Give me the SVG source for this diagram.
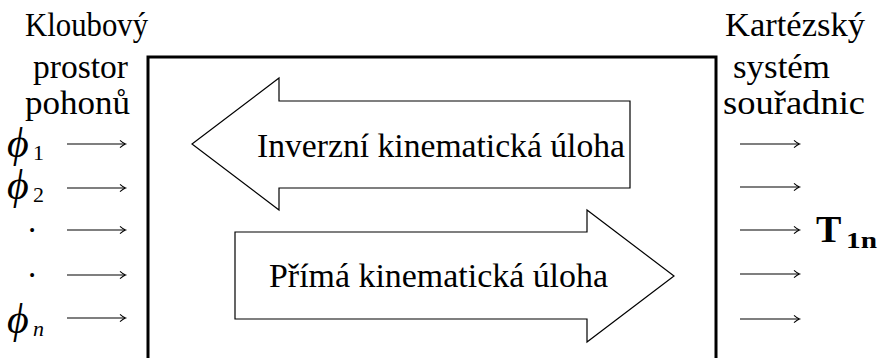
<svg xmlns="http://www.w3.org/2000/svg" width="879" height="358" viewBox="0 0 879 358">
<style>
.t{font-family:"Liberation Serif","Times New Roman",Tinos,"DejaVu Serif","Noto Serif",serif;font-size:33px;fill:#000}
.m{font-family:"Liberation Serif","Times New Roman",Tinos,"DejaVu Serif","Noto Serif",serif;font-style:italic;font-size:42px;fill:#000}
.s{font-family:"Liberation Serif","Times New Roman",Tinos,"DejaVu Serif","Noto Serif",serif;font-size:22px;fill:#000}
.b{font-family:"Liberation Serif","Times New Roman",Tinos,"DejaVu Serif","Noto Serif",serif;font-weight:bold;fill:#000}
.big{fill:#fff;stroke:#000;stroke-width:1.2;stroke-linejoin:miter}
.c{stroke:#000;stroke-width:1.1;fill:none;marker-end:url(#ah)}
</style>
<defs>
<marker id="ah" markerUnits="userSpaceOnUse" viewBox="0 0 10 10" markerWidth="10" markerHeight="10" refX="8" refY="5" orient="auto" overflow="visible">
<path d="M3,1.3 Q6.5,4.3 8.5,5 Q6.5,5.7 3,8.7" fill="none" stroke="#000" stroke-width="1.1"/>
</marker>
</defs>
<rect width="879" height="358" fill="#fff"/>
<g id="system-box">
<rect x="148" y="57" width="568" height="330" fill="none" stroke="#000" stroke-width="3"/>
</g>
<g id="inverse-task">
<polygon class="big" points="630,101 279,101 279,78 192,144 279,210 279,188 630,188"/>
<text class="t" x="257" y="157" textLength="368" lengthAdjust="spacingAndGlyphs">Inverzní kinematická úloha</text>
</g>
<g id="forward-task">
<polygon class="big" points="235,232 587,232 587,210 674,276 587,342 587,319 235,319"/>
<text class="t" x="269" y="287" textLength="339" lengthAdjust="spacingAndGlyphs">Přímá kinematická úloha</text>
</g>
<g id="joint-space-label">
<text class="t" x="25" y="36" textLength="123" lengthAdjust="spacingAndGlyphs">Kloubový</text>
<text class="t" x="33" y="78" textLength="95" lengthAdjust="spacingAndGlyphs">prostor</text>
<text class="t" x="25" y="114" textLength="105" lengthAdjust="spacingAndGlyphs">pohonů</text>
</g>
<g id="cartesian-label">
<text class="t" x="725" y="36" textLength="140" lengthAdjust="spacingAndGlyphs">Kartézský</text>
<text class="t" x="733" y="78" textLength="97" lengthAdjust="spacingAndGlyphs">systém</text>
<text class="t" x="723" y="114" textLength="142" lengthAdjust="spacingAndGlyphs">souřadnic</text>
</g>
<g id="phi1"><text class="m" x="7" y="157">ϕ</text><text class="s" x="33" y="160">1</text></g>
<g id="phi2"><text class="m" x="7" y="199">ϕ</text><text class="s" x="33" y="202">2</text></g>
<g id="dot1"><text class="t" x="28" y="232">.</text></g>
<g id="dot2"><text class="t" x="28" y="277">.</text></g>
<g id="phin"><text class="m" x="7" y="333">ϕ</text><text class="s" x="33" y="336" font-style="italic">n</text></g>
<g id="T1n"><text class="b" x="816" y="242" font-size="38">T</text><text class="b" x="846" y="248" font-size="24" textLength="31" lengthAdjust="spacingAndGlyphs">1n</text></g>
<g id="connectors">
<line class="c" x1="67" y1="144" x2="125" y2="144"/>
<line class="c" x1="67" y1="188" x2="125" y2="188"/>
<line class="c" x1="67" y1="230" x2="125" y2="230"/>
<line class="c" x1="67" y1="275" x2="125" y2="275"/>
<line class="c" x1="67" y1="318" x2="125" y2="318"/>
<line class="c" x1="740" y1="144" x2="799" y2="144"/>
<line class="c" x1="740" y1="187" x2="799" y2="187"/>
<line class="c" x1="740" y1="230" x2="799" y2="230"/>
<line class="c" x1="740" y1="274" x2="799" y2="274"/>
<line class="c" x1="740" y1="319" x2="799" y2="319"/>
</g>
</svg>
